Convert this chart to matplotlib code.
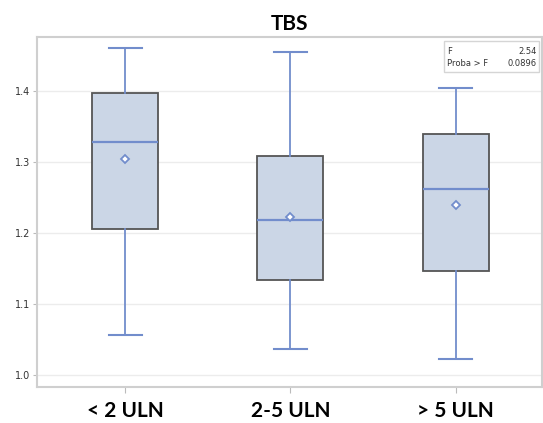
import matplotlib
matplotlib.use('Agg')
import matplotlib.pyplot as plt

# TBS by ULN group
groups = ['< 2 ULN', '2-5 ULN', '> 5 ULN']
whisker_low = [1.056, 1.036, 1.022]
q1 = [1.206, 1.134, 1.147]
median = [1.328, 1.219, 1.262]
q3 = [1.398, 1.308, 1.340]
whisker_high = [1.461, 1.455, 1.405]
mean = [1.305, 1.222, 1.239]
f_value = '2.54'
p_value = '0.0896'

BOX_FILL = '#cbd6e6'
BOX_EDGE = '#555555'
BLUE = '#728dcc'

stats = [{'label': g, 'whislo': lo, 'q1': a, 'med': m, 'q3': b,
          'whishi': hi, 'mean': mu}
         for g, lo, a, m, b, hi, mu in zip(groups, whisker_low, q1, median,
                                           q3, whisker_high, mean)]

fig = plt.figure(figsize=(5.43, 4.23), dpi=100)
ax = fig.add_axes([0.068, 0.085, 0.93, 0.828])

ax.bxp(stats, positions=[1, 2, 3], widths=0.40, showmeans=True,
       showfliers=False, patch_artist=True,
       boxprops={'facecolor': BOX_FILL, 'edgecolor': BOX_EDGE,
                 'linewidth': 1.3},
       medianprops={'color': BLUE, 'linewidth': 1.6},
       whiskerprops={'color': BLUE, 'linewidth': 1.3},
       capprops={'color': BLUE, 'linewidth': 1.5},
       capwidths=0.2,
       meanprops={'marker': 'D', 'markerfacecolor': 'white',
                  'markeredgecolor': BLUE, 'markersize': 4.5,
                  'markeredgewidth': 1.3})

ax.set_xlim(0.466, 3.522)
ax.set_ylim(0.983, 1.4765)
ax.set_yticks([1.0, 1.1, 1.2, 1.3, 1.4])
ax.set_yticklabels(['1.0', '1.1', '1.2', '1.3', '1.4'])
ax.yaxis.grid(True, color='#ececec', linewidth=1.0)
ax.set_axisbelow(True)

for side in ax.spines.values():
    side.set_color('#cfcfcf')
    side.set_linewidth(1.5)

ax.tick_params(axis='y', labelsize=7, colors='#bbbbbb', labelcolor='#333333',
               length=3, width=0.8, pad=2)
ax.tick_params(axis='x', colors='#bbbbbb', labelcolor='black', length=4,
               width=0.8, pad=6)
for lab in ax.get_xticklabels():
    lab.set_fontsize(15)
    lab.set_fontweight('bold')
    lab.set_family('Lato')

ax.set_title('TBS', fontsize=15, fontweight='bold', family='Lato', pad=5)

# inset statistics box
ax.text(0.812, 0.972, 'F', transform=ax.transAxes, fontsize=6,
        color='#333333', va='top', ha='left')
ax.text(0.990, 0.972, f_value, transform=ax.transAxes, fontsize=6,
        color='#333333', va='top', ha='right')
ax.text(0.812, 0.936, 'Proba > F', transform=ax.transAxes, fontsize=6,
        color='#333333', va='top', ha='left')
ax.text(0.990, 0.936, p_value, transform=ax.transAxes, fontsize=6,
        color='#333333', va='top', ha='right')
ax.add_patch(plt.Rectangle((0.806, 0.899), 0.188, 0.090,
                           transform=ax.transAxes, fill=False,
                           edgecolor='#d5d5d5', linewidth=1.0))

fig.savefig('out.png', dpi=100)
